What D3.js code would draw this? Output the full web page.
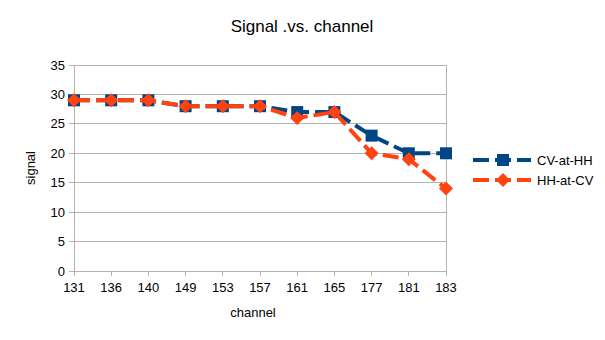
<!DOCTYPE html>
<html>
<head>
<meta charset="utf-8">
<script src="https://cdn.jsdelivr.net/npm/d3@7"></script>
<style>
  body { margin: 0; background: #fff; }
  svg { display: block; font-family: "Liberation Sans", Arial, sans-serif; }
</style>
</head>
<body>
<svg id="chart" width="605" height="340"></svg>
<script>
const channels = ["131", "136", "140", "149", "153", "157", "161", "165", "177", "181", "183"];
const cvAtHH = [29, 29, 29, 28, 28, 28, 27, 27, 23, 20, 20];
const hhAtCV = [29, 29, 29, 28, 28, 28, 26, 27, 20, 19, 14];
const yTicks = [0, 5, 10, 15, 20, 25, 30, 35];
const seriesNames = ["CV-at-HH", "HH-at-CV"];
const seriesColors = ["#004586", "#ff420e"];

const svg = d3.select("#chart");
const margin = { left: 74, right: 159, top: 65, bottom: 69 };
const W = 605, H = 340;

const x = d3.scalePoint().domain(channels).range([margin.left, W - margin.right]).padding(0);
const y = d3.scaleLinear().domain([0, 35]).range([H - margin.bottom, margin.top]);

const grid = "#b3b3b3";

// horizontal gridlines
svg.append("g").selectAll("line").data(yTicks).join("line")
  .attr("x1", margin.left - 5).attr("x2", W - margin.right)
  .attr("y1", d => y(d)).attr("y2", d => y(d))
  .attr("stroke", grid).attr("stroke-width", 1)
  .attr("shape-rendering", "crispEdges");

// left and right borders of plot area
[margin.left, W - margin.right].forEach(px => {
  svg.append("line").attr("x1", px).attr("x2", px)
    .attr("y1", y(35)).attr("y2", y(0) + 5)
    .attr("stroke", grid).attr("shape-rendering", "crispEdges");
});

// x axis tick marks
svg.append("g").selectAll("line").data(channels).join("line")
  .attr("x1", d => x(d)).attr("x2", d => x(d))
  .attr("y1", y(0)).attr("y2", y(0) + 5)
  .attr("stroke", grid).attr("shape-rendering", "crispEdges");

// y tick labels
svg.append("g").selectAll("text").data(yTicks).join("text")
  .attr("x", margin.left - 9).attr("y", d => y(d) + 4.5)
  .attr("text-anchor", "end").attr("font-size", 13).attr("fill", "#000")
  .text(d => d);

// x tick labels
svg.append("g").selectAll("text").data(channels).join("text")
  .attr("x", d => x(d)).attr("y", y(0) + 21)
  .attr("text-anchor", "middle").attr("font-size", 13).attr("fill", "#000")
  .text(d => d);

// title and axis titles
svg.append("text").attr("x", 302).attr("y", 32).attr("text-anchor", "middle")
  .attr("font-size", 17).text("Signal .vs. channel");
svg.append("text").attr("x", 253).attr("y", 317).attr("text-anchor", "middle")
  .attr("font-size", 13).text("channel");
svg.append("text").attr("transform", "translate(35," + (y(17.5)) + ") rotate(-90)")
  .attr("text-anchor", "middle").attr("font-size", 13).text("signal");

const dash = "16,6";
const line = d3.line().x((d, i) => x(channels[i])).y(d => y(d));

function square(g, cx, cy, color) {
  g.append("rect").attr("x", cx - 6).attr("y", cy - 6).attr("width", 12).attr("height", 12)
    .attr("fill", color);
}
function diamond(g, cx, cy, color) {
  g.append("path").attr("d", `M${cx},${cy - 7}L${cx + 7},${cy}L${cx},${cy + 7}L${cx - 7},${cy}Z`)
    .attr("fill", color);
}

const allSeries = [cvAtHH, hhAtCV];
const markers = [square, diamond];

allSeries.forEach((vals, s) => {
  const g = svg.append("g");
  g.append("path").datum(vals).attr("d", line)
    .attr("fill", "none").attr("stroke", seriesColors[s]).attr("stroke-width", 4)
    .attr("stroke-dasharray", dash).attr("stroke-linejoin", "round");
  vals.forEach((v, i) => markers[s](g, x(channels[i]), y(v), seriesColors[s]));
});

// legend
seriesNames.forEach((name, s) => {
  const ly = 160 + s * 20;
  const g = svg.append("g");
  g.append("line").attr("x1", 473).attr("x2", 531).attr("y1", ly).attr("y2", ly)
    .attr("stroke", seriesColors[s]).attr("stroke-width", 4).attr("stroke-dasharray", dash);
  markers[s](g, 503, ly, seriesColors[s]);
  g.append("text").attr("x", 537).attr("y", ly + 5).attr("font-size", 13).text(name);
});
</script>
</body>
</html>
